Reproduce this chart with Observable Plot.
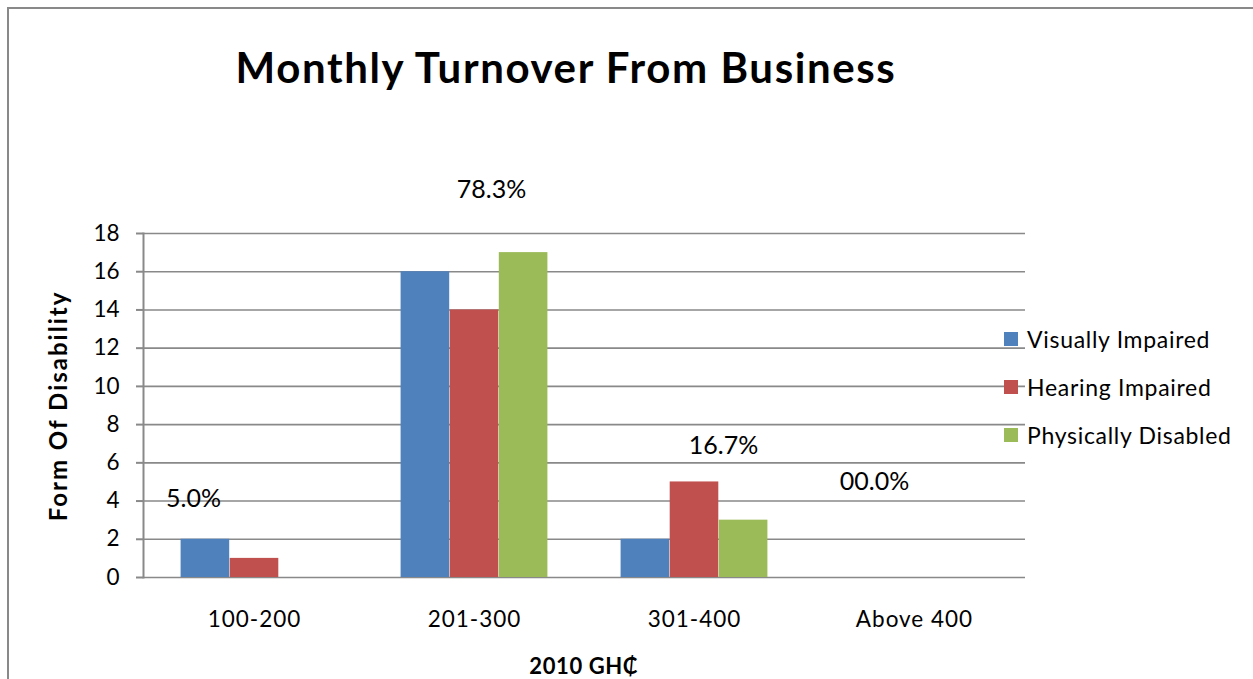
<!DOCTYPE html>
<html>
<head>
<meta charset="utf-8">
<script src="https://cdn.jsdelivr.net/npm/d3@7"></script>
<script src="https://cdn.jsdelivr.net/npm/@observablehq/plot@0.6"></script>
<style>
  html, body { margin: 0; padding: 0; background: #fff; }
  #wrap { position: relative; width: 1253px; height: 679px; overflow: hidden; font-family: Lato, "Open Sans", sans-serif; color: #000; }
  #border { position: absolute; left: 7px; top: 7px; width: 1400px; height: 800px; border-left: 2px solid #898989; border-top: 2px solid #898989; }
  #chart { position: absolute; left: 0; top: 0; }
  .title { position: absolute; left: 566px; top: 42px; transform: translateX(-50%); font-weight: bold; font-size: 42px; letter-spacing: 1.6px; white-space: nowrap; }
  .ytitle { position: absolute; left: 57px; top: 406px; transform: translate(-50%, -50%) rotate(-90deg); font-weight: bold; font-size: 24px; letter-spacing: 2px; white-space: nowrap; }
  .xtitle { position: absolute; left: 584px; top: 652px; transform: translateX(-50%); font-weight: bold; font-size: 22px; letter-spacing: 0.6px; white-space: nowrap; }
  .legend { position: absolute; left: 1004px; top: 315px; }
  .legend .item { display: flex; align-items: center; height: 48px; font-size: 23px; letter-spacing: 0.7px; white-space: nowrap; }
  .legend .sw { width: 14px; height: 14px; margin-right: 9px; }
  #chart svg g[aria-label="x-axis tick label"] text { letter-spacing: 1px; }
</style>
</head>
<body>
<div id="wrap">
  <div id="border"></div>
  <div id="chart"></div>
  <div class="title">Monthly Turnover From Business</div>
  <div class="ytitle">Form Of Disability</div>
  <div class="xtitle">2010 GH₵</div>
  <div class="legend" id="legend"></div>
</div>
<script>
// ---- data ----
const categories = ["100-200", "201-300", "301-400", "Above 400"];
const seriesNames = ["Visually Impaired", "Hearing Impaired", "Physically Disabled"];
const visuallyImpaired = [2, 16, 2, 0];
const hearingImpaired = [1, 14, 5, 0];
const physicallyDisabled = [0, 17, 3, 0];
const seriesColors = ["#4F81BD", "#C0504D", "#9BBB59"];
const yTicks = [0, 2, 4, 6, 8, 10, 12, 14, 16, 18];
const pctLabels = ["5.0%", "78.3%", "16.7%", "00.0%"];
const pctLabelY = [4.1, 20.3, 6.9, 5.0];

// ---- build table ----
const seriesValues = [visuallyImpaired, hearingImpaired, physicallyDisabled];
const rows = [];
seriesNames.forEach((s, si) => categories.forEach((c, ci) => rows.push({cat: c, series: s, si, value: seriesValues[si][ci]})));

const W = 1253, H = 679;
const mL = 143, mR = 228, mT = 233, mB = 102;
const band = (W - mL - mR) / categories.length;
const barW = band * 0.2227;
const groupOff = (band - 3 * barW) / 2;
// horizontal offset of each percentage annotation from its band centre (px)
const pctDx = [-61, 17, 29, -40];

const grid = "#898989";
const barMarks = seriesNames.map((s, si) => {
  const left = groupOff + si * barW;
  return Plot.barY(rows.filter(d => d.si === si), {
    x: "cat", y: "value", fill: seriesColors[si],
    insetLeft: left, insetRight: band - left - barW
  });
});
const textMarks = categories.map((c, i) => Plot.text([{cat: c, y: pctLabelY[i], text: pctLabels[i]}], {
  x: "cat", y: "y", text: "text", dx: pctDx[i], fontSize: 25, fill: "#000"
}));

const chart = Plot.plot({
  width: W, height: H,
  marginLeft: mL, marginRight: mR, marginTop: mT, marginBottom: mB,
  style: {fontFamily: "Lato, 'Open Sans', sans-serif", background: "transparent", overflow: "visible"},
  x: {domain: categories, padding: 0, label: null},
  y: {domain: [0, 18], label: null},
  marks: [
    Plot.gridY(yTicks, {stroke: grid, strokeOpacity: 1, strokeWidth: 1.6}),
    ...barMarks,
    Plot.frame({anchor: "left", stroke: grid, strokeWidth: 2}),
    Plot.axisY(yTicks, {tickSize: 7, tickPadding: 17, stroke: grid, strokeWidth: 2, fill: "#000", fontSize: 22.5, label: null}),
    Plot.axisX({tickSize: 0, tickPadding: 34, fill: "#000", fontSize: 22.5, label: null}),
    ...textMarks
  ]
});
document.getElementById("chart").appendChild(chart);

// legend
const legend = document.getElementById("legend");
seriesNames.forEach((s, i) => {
  const item = document.createElement("div");
  item.className = "item";
  const sw = document.createElement("span");
  sw.className = "sw";
  sw.style.background = seriesColors[i];
  const t = document.createElement("span");
  t.textContent = s;
  item.appendChild(sw); item.appendChild(t);
  legend.appendChild(item);
});
</script>
</body>
</html>
